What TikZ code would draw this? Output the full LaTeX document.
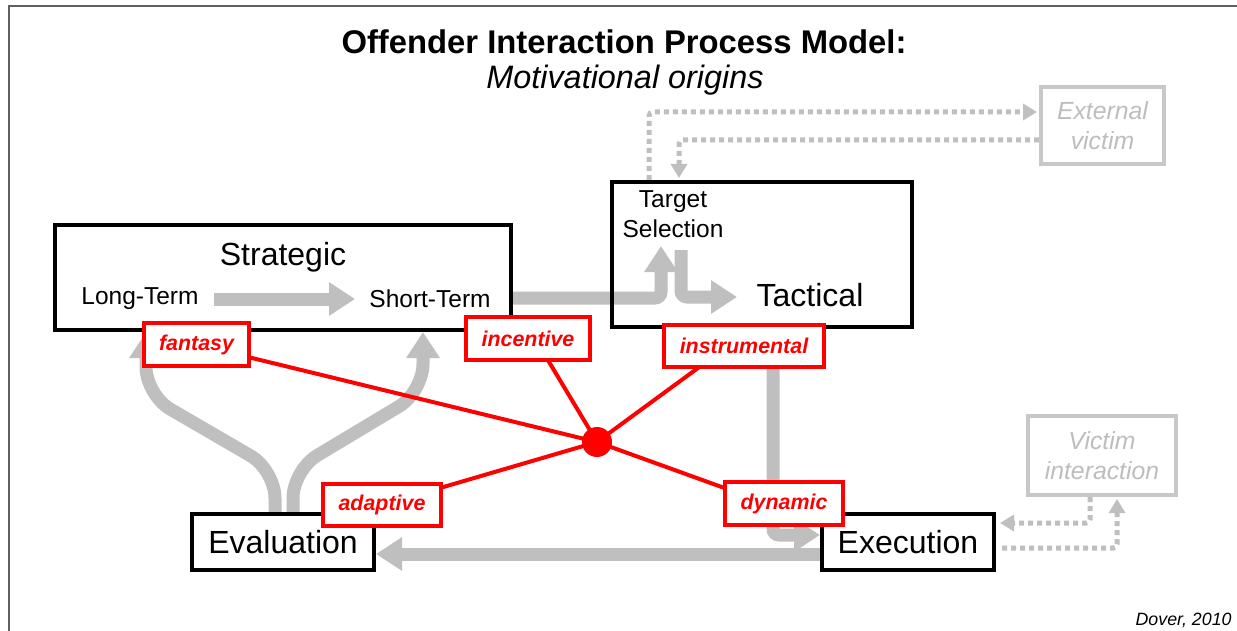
\documentclass[tikz,border=0pt]{standalone}
\usepackage{fontspec}
\setmainfont{Liberation Sans}
\usetikzlibrary{arrows.meta}
\definecolor{arrgray}{HTML}{BFBFBF}
\definecolor{lgray}{HTML}{C8C8C8}
\definecolor{ltext}{HTML}{BDBDBD}
\definecolor{framec}{HTML}{606060}
\pgfdeclarelayer{bg}
\pgfsetlayers{bg,main}
\begin{document}
\begin{tikzpicture}[x=0.5pt,y=-0.5pt,
  blackbox/.style={draw=black,line width=2pt,inner sep=0pt},
  graybox/.style={draw=lgray,line width=2pt,inner sep=0pt,align=center,text=ltext,
    font=\fontsize{12.4}{15}\selectfont\itshape},
  redbox/.style={draw=red,line width=2pt,fill=white,inner sep=0pt,text=red,
    font=\fontsize{10.7}{13}\selectfont\bfseries\itshape},
  bigtxt/.style={inner sep=0pt,font=\fontsize{16}{19}\selectfont},
  midtxt/.style={inner sep=0pt,font=\fontsize{12.25}{15}\selectfont},
  ga/.style={draw=arrgray,line width=6.5pt,-{Triangle[width=16pt,length=13pt]}},
  dotarr/.style={draw=arrgray,line width=2.5pt,dash pattern=on 2.5pt off 2pt,
    -{Triangle[width=8pt,length=7pt]}},
  redline/.style={draw=red,line width=2pt}]
\useasboundingbox (0,0) rectangle (1237,631);
\draw[framec,line width=1pt] (9,631) -- (9,6) -- (1237,6);

% titles
\node[inner sep=0pt,font=\fontsize{16.4}{19}\selectfont\bfseries] (title) at (624,42) {Offender Interaction Process Model:};
\node[inner sep=0pt,font=\fontsize{16.2}{19}\selectfont\itshape] (subtitle) at (625,80) {Motivational origins};

% black boxes
\node[blackbox,minimum width=228pt,minimum height=52.5pt] (strat) at (283,277.5) {};
\node[bigtxt] (strattxt) at (283,257) {Strategic};
\node[midtxt,inner xsep=7.5pt] (lt) at (140,299) {Long-Term};
\node[midtxt,inner xsep=7pt] (st) at (430,299) {Short-Term};

\node[blackbox,minimum width=150pt,minimum height=72.5pt] (tact) at (762,254.5) {};
\node[midtxt,align=center] (ts) at (673,214) {Target\\Selection};
\node[bigtxt] (tacttxt) at (810,295) {Tactical};

\node[blackbox,bigtxt,minimum width=91pt,minimum height=28pt] (eval) at (283,542) {Evaluation};
\node[blackbox,bigtxt,minimum width=86pt,minimum height=28pt] (exec) at (908,542) {Execution};

% gray boxes
\node[graybox,minimum width=61.5pt,minimum height=38.5pt] (extv) at (1102.5,125.5) {External\\victim};
\node[graybox,minimum width=74pt,minimum height=39.5pt] (vint) at (1102,455.5) {Victim\\interaction};

% red label boxes
\node[redbox,minimum width=52.5pt,minimum height=21.5pt] (fantasy) at (196.5,344.5) {fantasy};
\node[redbox,minimum width=62pt,minimum height=21.5pt] (incentive) at (528,338.5) {incentive};
\node[redbox,minimum width=80pt,minimum height=21pt] (instr) at (744,346) {instrumental};
\node[redbox,minimum width=59pt,minimum height=21pt] (adaptive) at (382,505) {adaptive};
\node[redbox,minimum width=59pt,minimum height=21.5pt] (dynamic) at (784,503.5) {dynamic};
\node[circle,fill=red,minimum size=15pt,inner sep=0pt] (dot) at (597,442) {};

% credit
\node[inner sep=0pt,anchor=east,font=\fontsize{8.9}{11}\selectfont\itshape] (credit) at (1232,620) {Dover, 2010};

\coordinate (tsin) at (661,246);
\coordinate (tsout) at (681,250);
\coordinate (tacin) at (737,297);

\begin{pgfonlayer}{bg}
  % gray arrows
  \draw[ga] (lt.east) -- (st.west);
  \draw[ga,rounded corners=3pt] ([yshift=-10.25pt]strat.east) -| (tsin);
  \draw[ga,rounded corners=3pt] (tsout) |- (tacin);
  \draw[ga,rounded corners=14pt] ([xshift=-4pt]eval.north) -- ++(0,-42) -- (146,395) -- (strat.south -| 146,0);
  \draw[ga,rounded corners=14pt] ([xshift=5pt]eval.north) -- ++(0,-42) -- (423,392) -- (strat.south -| 423,0);
  \draw[ga] ([yshift=-6pt]exec.west) -- ([yshift=-6pt]eval.east);
  \draw[ga,rounded corners=3pt] (instr.south -| 773,0) |- ([yshift=3.5pt]exec.west);
  % dotted arrows
  \draw[dotarr,rounded corners=2pt] ([xshift=-56.5pt]tact.north) |- ([yshift=6.75pt,xshift=-1pt]extv.west);
  \draw[dotarr,rounded corners=2pt] ([yshift=-7.25pt]extv.west) -| ([xshift=-41.5pt,yshift=1pt]tact.north);
  \draw[dotarr,rounded corners=2pt] ([xshift=-6pt]vint.south) |- ([yshift=9.5pt,xshift=2pt]exec.east);
  \draw[dotarr,rounded corners=2pt] ([yshift=-3pt,xshift=3pt]exec.east) -| ([xshift=7.5pt,yshift=-1pt]vint.south);
  % red connectors
  \draw[redline] (dot.center) -- (fantasy.center);
  \draw[redline] (dot.center) -- ([xshift=3.5pt]incentive.center);
  \draw[redline] (dot.center) -- ([xshift=-8pt]instr.center);
  \draw[redline] (dot.center) -- (adaptive.center);
  \draw[redline] (dot.center) -- ([yshift=-3pt]dynamic.center);
\end{pgfonlayer}
\end{tikzpicture}
\end{document}
